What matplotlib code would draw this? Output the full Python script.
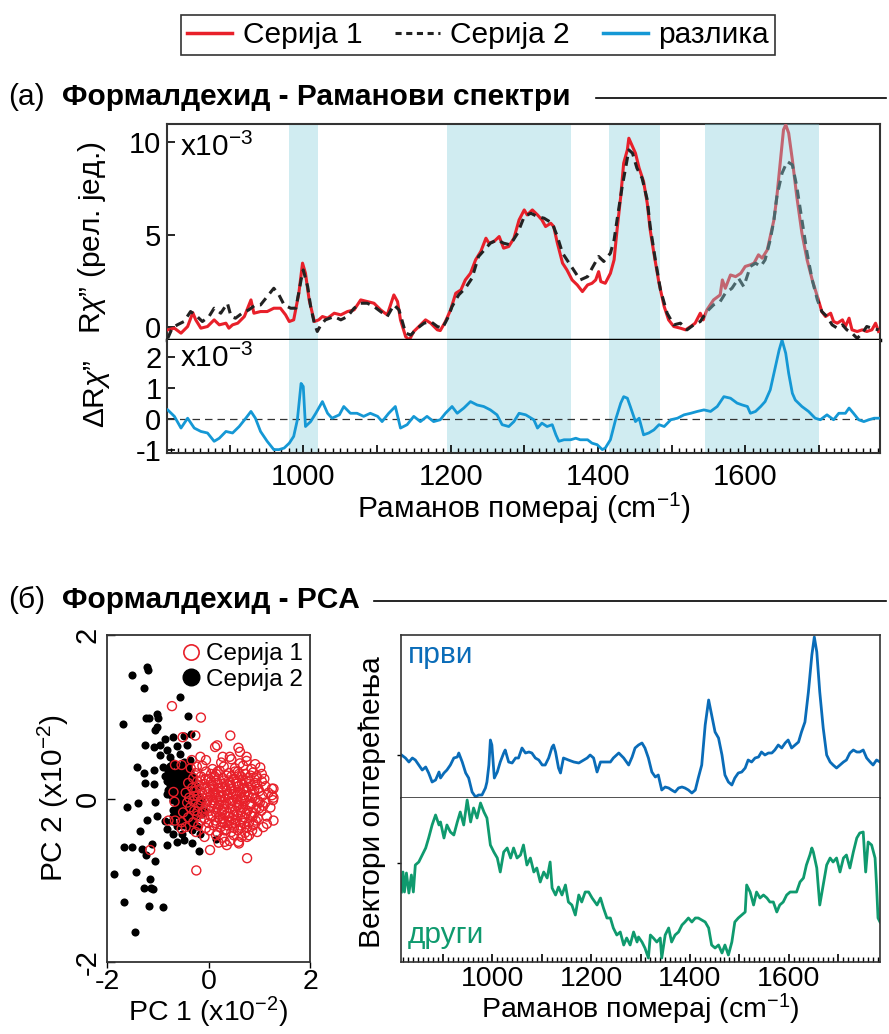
import matplotlib
matplotlib.use("Agg")
import matplotlib.pyplot as plt
from matplotlib.lines import Line2D
from matplotlib.ticker import FixedLocator, MultipleLocator, FuncFormatter

plt.rcParams['font.family'] = ['Liberation Sans', 'DejaVu Sans']
plt.rcParams['mathtext.fontset'] = 'custom'
plt.rcParams['mathtext.rm'] = 'Liberation Sans'
plt.rcParams['mathtext.it'] = 'Liberation Sans:italic'
plt.rcParams['axes.unicode_minus'] = False

# ---------------- data ----------------
bands = [(981, 1020), (1195, 1364), (1415, 1484), (1545, 1700)]

wn_s1 = [816, 825, 834, 843, 850, 854, 861, 870, 879, 886, 895, 899, 904, 911, 920, 929, 933, 942,
         951, 960, 969, 976, 981, 987, 994, 999, 1003, 1008, 1015, 1021, 1026, 1033, 1042, 1051,
         1060, 1069, 1078, 1087, 1096, 1105, 1114, 1123, 1128, 1132, 1139, 1144, 1150, 1157, 1166,
         1173, 1182, 1186, 1193, 1200, 1207, 1214, 1220, 1227, 1234, 1241, 1248, 1252, 1259, 1266,
         1272, 1279, 1286, 1293, 1300, 1304, 1311, 1318, 1324, 1329, 1336, 1340, 1345, 1352, 1358,
         1365, 1372, 1379, 1386, 1392, 1397, 1401, 1404, 1410, 1417, 1422, 1426, 1431, 1435, 1440,
         1442, 1447, 1451, 1456, 1462, 1467, 1471, 1476, 1483, 1490, 1496, 1503, 1512, 1519, 1526,
         1532, 1539, 1543, 1548, 1557, 1566, 1569, 1573, 1580, 1587, 1594, 1600, 1607, 1612, 1618,
         1623, 1630, 1634, 1639, 1643, 1648, 1652, 1655, 1659, 1664, 1670, 1677, 1684, 1691, 1698,
         1704, 1709, 1716, 1720, 1725, 1732, 1736, 1741, 1745, 1752, 1759, 1765, 1772, 1777, 1781]
s1 = [-0.14, -0.05, -0.32, 0.04, 0.79, 0.40, -0.05, 0.04, 0.40, 0.13, 0.22, -0.05, 0.13, 0.22, 0.58,
      1.48, 0.76, 0.85, 0.85, 1.03, 1.03, 0.67, 0.31, 0.40, 1.84, 3.47, 2.92, 1.48, 0.31, 0.40, 0.58,
      0.49, 0.76, 0.67, 0.85, 0.94, 1.48, 1.39, 1.30, 0.94, 0.67, 1.75, 1.39, 0.40, -0.51, -0.69,
      -0.23, 0.04, 0.40, 0.22, -0.14, -0.18, 0.31, 0.94, 1.84, 2.02, 2.56, 2.92, 3.65, 4.10, 4.82,
      4.55, 4.64, 4.91, 4.28, 4.37, 4.82, 5.81, 6.35, 6.08, 6.35, 6.08, 5.81, 5.45, 5.63, 5.45, 4.55,
      3.47, 3.10, 2.56, 2.29, 1.93, 2.29, 2.38, 2.56, 3.01, 2.47, 2.38, 2.92, 3.65, 5.27, 7.08, 8.88,
      9.60, 10.23, 9.78, 9.42, 8.61, 7.89, 6.71, 5.27, 4.01, 2.38, 1.12, 0.40, 0.04, -0.05, -0.14,
      0.04, 0.22, 0.76, 0.40, 0.94, 1.48, 1.75, 2.56, 2.11, 2.83, 2.74, 2.92, 3.29, 3.38, 3.47, 3.92,
      3.74, 4.19, 4.91, 5.81, 7.08, 9.06, 10.69, 10.96, 10.51, 9.06, 7.08, 5.09, 3.65, 2.56, 1.66,
      0.85, 0.58, 0.76, 0.31, 0.22, 0.40, 0.04, 0.49, -0.14, -0.23, -0.14, -0.23, -0.14, 0.22, -0.23]

wn_s2 = [816, 822, 829, 838, 847, 856, 863, 872, 879, 888, 897, 902, 908, 917, 926, 935, 942, 951,
         960, 967, 974, 983, 990, 997, 1000, 1006, 1010, 1015, 1019, 1024, 1030, 1042, 1051, 1060,
         1069, 1078, 1087, 1096, 1105, 1114, 1123, 1130, 1139, 1146, 1155, 1164, 1173, 1182, 1189,
         1196, 1202, 1211, 1220, 1229, 1238, 1248, 1254, 1263, 1272, 1281, 1291, 1300, 1309, 1318,
         1327, 1338, 1345, 1352, 1358, 1367, 1376, 1386, 1392, 1401, 1408, 1417, 1422, 1426, 1433,
         1438, 1442, 1447, 1453, 1460, 1467, 1471, 1478, 1485, 1494, 1503, 1512, 1521, 1530, 1539,
         1548, 1557, 1566, 1573, 1582, 1591, 1598, 1607, 1614, 1621, 1627, 1634, 1639, 1643, 1650,
         1657, 1664, 1670, 1677, 1684, 1691, 1698, 1704, 1711, 1718, 1725, 1732, 1738, 1745, 1752,
         1759, 1765, 1772, 1781]
s2 = [-0.60, -0.05, 0.13, 0.31, 0.85, 0.58, 0.31, 0.58, 1.03, 0.76, 1.30, 0.58, 0.49, 0.76, 0.94,
      1.21, 1.21, 1.66, 2.11, 1.75, 1.21, 1.03, 1.03, 2.56, 3.10, 2.20, 1.12, 0.22, -0.23, 0.13, 0.40,
      0.58, 0.40, 0.58, 1.03, 1.30, 1.30, 1.12, 0.85, 0.58, 1.21, 0.94, -0.32, -0.42, -0.05, 0.22,
      0.31, 0.04, -0.05, 0.49, 1.12, 1.75, 2.11, 2.65, 3.83, 4.28, 4.55, 4.73, 4.55, 4.46, 5.09, 5.99,
      6.17, 5.99, 5.90, 5.63, 4.91, 4.01, 3.65, 3.10, 2.56, 2.74, 3.19, 3.83, 3.56, 4.01, 4.73, 5.81,
      7.62, 8.70, 9.60, 9.42, 8.61, 8.07, 6.90, 5.45, 3.65, 2.02, 0.76, 0.13, 0.22, -0.14, 0.13, 0.31,
      0.85, 1.21, 1.39, 1.84, 2.11, 2.65, 2.20, 3.29, 3.47, 3.29, 3.65, 4.73, 5.81, 7.08, 8.34, 8.97,
      8.79, 7.62, 5.81, 4.01, 2.56, 1.48, 0.85, 0.58, 0.13, -0.05, 0.13, -0.14, -0.32, -0.60, -0.32,
      0.04, -0.05, -0.14]

wn_diff = [816, 825, 834, 843, 852, 861, 870, 879, 886, 895, 904, 913, 922, 929, 935, 942, 951, 960,
           967, 974, 981, 987, 992, 997, 1000, 1003, 1010, 1017, 1026, 1033, 1039, 1049, 1055, 1064,
           1073, 1082, 1091, 1101, 1107, 1116, 1125, 1132, 1141, 1150, 1159, 1168, 1177, 1186, 1193,
           1202, 1209, 1218, 1227, 1236, 1245, 1254, 1263, 1270, 1279, 1286, 1293, 1302, 1313, 1318,
           1324, 1331, 1338, 1343, 1347, 1354, 1363, 1370, 1376, 1386, 1392, 1399, 1406, 1410, 1417,
           1424, 1431, 1435, 1440, 1444, 1451, 1456, 1462, 1469, 1476, 1483, 1490, 1499, 1508, 1517,
           1526, 1535, 1544, 1553, 1562, 1571, 1580, 1589, 1596, 1603, 1607, 1614, 1621, 1627, 1634,
           1641, 1646, 1650, 1655, 1659, 1664, 1668, 1677, 1686, 1695, 1702, 1711, 1720, 1727, 1736,
           1741, 1747, 1754, 1761, 1768, 1775, 1781]
diff = [0.29, 0.08, -0.30, 0.02, -0.30, -0.41, -0.46, -0.73, -0.63, -0.41, -0.46, -0.25, 0.02, 0.24,
        0.02, -0.41, -0.73, -1.00, -1.00, -0.95, -0.79, -0.57, -0.03, 1.15, 1.05, -0.25, -0.09, 0.18,
        0.56, 0.18, 0.02, 0.13, 0.40, 0.18, 0.18, 0.08, 0.18, 0.08, -0.09, 0.18, 0.40, -0.30, -0.19,
        0.08, -0.09, 0.08, -0.09, -0.03, 0.18, 0.40, 0.18, 0.35, 0.56, 0.45, 0.40, 0.29, 0.13, -0.19,
        -0.25, -0.09, 0.18, 0.13, -0.03, -0.30, -0.14, -0.25, -0.19, -0.52, -0.73, -0.68, -0.68, -0.63,
        -0.68, -0.68, -0.79, -0.84, -1.00, -0.95, -0.68, -0.03, 0.51, 0.72, 0.67, 0.40, -0.09, 0.02,
        -0.52, -0.46, -0.36, -0.19, -0.25, -0.03, 0.02, 0.13, 0.18, 0.24, 0.29, 0.24, 0.40, 0.72, 0.67,
        0.51, 0.45, 0.40, 0.18, 0.24, 0.40, 0.56, 0.94, 1.69, 2.23, 2.56, 2.13, 1.48, 0.83, 0.61, 0.40,
        0.24, 0.02, -0.03, 0.13, -0.03, 0.18, 0.18, 0.35, 0.18, -0.03, -0.09, -0.03, 0.02, 0.02]

wn_pc1 = [816, 824, 831, 838, 844, 851, 858, 865, 871, 878, 885, 892, 895, 902, 908, 915, 922, 929,
          932, 939, 946, 952, 959, 966, 972, 979, 986, 989, 993, 996, 999, 1004, 1010, 1016, 1023,
          1026, 1033, 1040, 1047, 1053, 1060, 1067, 1074, 1080, 1087, 1094, 1101, 1107, 1114, 1121,
          1124, 1128, 1134, 1138, 1144, 1154, 1165, 1175, 1185, 1192, 1198, 1205, 1212, 1219, 1229,
          1239, 1245, 1256, 1266, 1276, 1283, 1289, 1296, 1303, 1309, 1316, 1323, 1330, 1336, 1343,
          1350, 1357, 1363, 1370, 1377, 1384, 1390, 1397, 1404, 1411, 1417, 1424, 1431, 1438, 1444,
          1451, 1458, 1465, 1471, 1478, 1485, 1491, 1498, 1505, 1512, 1518, 1525, 1532, 1539, 1545,
          1552, 1559, 1566, 1572, 1579, 1586, 1593, 1599, 1606, 1613, 1620, 1626, 1633, 1640, 1647,
          1652, 1657, 1663, 1670, 1677, 1684, 1690, 1697, 1704, 1711, 1717, 1724, 1731, 1738, 1744,
          1751, 1758, 1765, 1771, 1778, 1785]
pc1 = [0.00, -0.03, -0.07, -0.03, -0.05, -0.10, -0.15, -0.12, -0.18, -0.27, -0.25, -0.17, -0.23,
       -0.18, -0.15, -0.10, -0.03, -0.02, 0.02, -0.07, -0.18, -0.23, -0.37, -0.42, -0.40, -0.40,
       -0.33, -0.27, -0.10, 0.15, 0.10, -0.23, -0.17, -0.07, 0.02, 0.05, -0.07, -0.08, -0.03, -0.03,
       0.07, 0.02, 0.03, 0.02, -0.03, -0.05, -0.10, -0.10, -0.03, 0.08, 0.10, 0.03, -0.13, -0.18,
       -0.03, -0.05, -0.07, -0.08, -0.05, -0.03, 0.00, -0.03, -0.17, -0.07, -0.07, -0.07, -0.03, 0.02,
       -0.03, -0.10, -0.02, 0.07, 0.10, 0.12, 0.07, -0.03, -0.17, -0.22, -0.20, -0.35, -0.32, -0.33,
       -0.35, -0.37, -0.33, -0.32, -0.33, -0.35, -0.38, -0.35, -0.23, -0.10, 0.30, 0.55, 0.40, 0.23,
       0.17, 0.00, -0.20, -0.27, -0.30, -0.23, -0.18, -0.17, -0.13, -0.05, -0.07, -0.03, -0.02, 0.03,
       0.00, 0.02, 0.02, 0.05, 0.10, 0.07, 0.12, 0.15, 0.07, 0.10, 0.13, 0.23, 0.33, 0.63, 1.00, 1.18,
       1.03, 0.63, 0.27, 0.00, -0.07, -0.10, -0.13, -0.10, -0.07, -0.05, 0.02, 0.05, 0.03, 0.03, 0.05,
       -0.03, -0.07, -0.10, -0.05, -0.07]

wn_pc2 = [816, 819, 822, 826, 831, 836, 840, 844, 851, 858, 865, 871, 878, 885, 892, 895, 902, 908,
          915, 922, 929, 935, 942, 949, 956, 962, 969, 976, 983, 989, 996, 1003, 1010, 1016, 1023,
          1030, 1037, 1043, 1050, 1057, 1063, 1070, 1077, 1084, 1090, 1097, 1104, 1111, 1117, 1121,
          1128, 1134, 1141, 1148, 1154, 1161, 1168, 1175, 1181, 1188, 1195, 1202, 1212, 1219, 1225,
          1232, 1239, 1245, 1252, 1259, 1266, 1272, 1279, 1286, 1293, 1296, 1303, 1309, 1316, 1320,
          1326, 1333, 1340, 1343, 1350, 1357, 1363, 1370, 1377, 1384, 1390, 1397, 1404, 1411, 1417,
          1424, 1431, 1438, 1444, 1451, 1458, 1465, 1471, 1478, 1485, 1491, 1498, 1505, 1512, 1515,
          1522, 1529, 1535, 1542, 1549, 1556, 1562, 1569, 1576, 1582, 1589, 1596, 1603, 1609, 1616,
          1623, 1630, 1636, 1643, 1647, 1650, 1657, 1663, 1670, 1677, 1684, 1690, 1697, 1704, 1711,
          1717, 1724, 1731, 1738, 1744, 1751, 1756, 1761, 1768, 1775, 1778, 1781, 1785]
pc2 = [-0.29, -0.09, -0.29, -0.10, -0.30, -0.12, -0.29, -0.02, 0.01, 0.08, 0.15, 0.25, 0.38, 0.48,
       0.38, 0.41, 0.25, 0.38, 0.31, 0.28, 0.41, 0.51, 0.38, 0.63, 0.41, 0.55, 0.45, 0.60, 0.51, 0.45,
       0.18, 0.11, 0.05, -0.09, 0.11, 0.15, 0.05, 0.15, 0.05, 0.08, 0.18, -0.02, 0.05, -0.09, -0.05,
       -0.19, -0.09, -0.15, 0.01, -0.25, -0.32, -0.24, -0.32, -0.22, -0.39, -0.42, -0.52, -0.32,
       -0.39, -0.29, -0.29, -0.35, -0.42, -0.35, -0.45, -0.55, -0.55, -0.65, -0.72, -0.69, -0.82,
       -0.75, -0.82, -0.69, -0.79, -0.74, -0.79, -0.85, -0.95, -0.72, -0.75, -0.79, -0.75, -0.95,
       -0.72, -0.65, -0.79, -0.72, -0.69, -0.62, -0.59, -0.55, -0.59, -0.55, -0.55, -0.57, -0.59,
       -0.65, -0.82, -0.85, -0.82, -0.90, -0.82, -0.92, -0.79, -0.59, -0.55, -0.52, -0.49, -0.22,
       -0.29, -0.42, -0.29, -0.35, -0.32, -0.35, -0.39, -0.39, -0.49, -0.42, -0.39, -0.32, -0.29,
       -0.29, -0.29, -0.19, -0.15, -0.02, 0.08, 0.15, 0.11, -0.05, -0.42, -0.22, -0.02, 0.05, 0.01,
       0.05, -0.09, 0.05, 0.08, -0.05, 0.11, 0.25, 0.30, 0.31, -0.09, 0.21, 0.18, 0.05, -0.22, -0.55,
       -0.59]

# PCA scores (x10^-2): Серија 1 (open red) and Серија 2 (filled black)
pca_s1 = [(-0.05, 0.47), (0.25, 0.44), (0.45, 0.48), (0.62, 0.43), (0.75, 0.46), (0.92, 0.42),
          (-0.35, 0.37), (-0.12, 0.40), (0.08, 0.36), (0.30, 0.39), (0.52, 0.37), (0.68, 0.40),
          (0.85, 0.36), (1.02, 0.38), (-0.25, 0.31), (-0.05, 0.33), (0.15, 0.30), (0.22, 0.34),
          (0.40, 0.31), (0.58, 0.33), (0.72, 0.30), (0.88, 0.32), (1.05, 0.30), (-0.30, 0.25),
          (-0.15, 0.27), (0.00, 0.24), (0.12, 0.27), (0.28, 0.25), (0.36, 0.28), (0.50, 0.24),
          (0.64, 0.27), (0.78, 0.25), (0.95, 0.27), (1.10, 0.24), (-0.40, 0.19), (-0.22, 0.21),
          (-0.08, 0.18), (0.05, 0.21), (0.18, 0.19), (0.30, 0.22), (0.42, 0.19), (0.55, 0.21),
          (0.66, 0.18), (0.80, 0.21), (0.92, 0.19), (1.05, 0.21), (-0.32, 0.13), (-0.18, 0.15),
          (-0.05, 0.12), (0.08, 0.15), (0.20, 0.13), (0.33, 0.15), (0.45, 0.12), (0.58, 0.15),
          (0.70, 0.13), (0.84, 0.15), (0.98, 0.12), (1.12, 0.15), (1.25, 0.12), (-0.45, 0.07),
          (-0.28, 0.09), (-0.12, 0.06), (0.00, 0.09), (0.12, 0.07), (0.25, 0.09), (0.38, 0.06),
          (0.50, 0.09), (0.62, 0.07), (0.75, 0.09), (0.88, 0.06), (1.00, 0.09), (1.18, 0.07),
          (-0.38, 0.01), (-0.22, 0.03), (-0.10, 0.00), (0.04, 0.03), (0.16, 0.01), (0.29, 0.03),
          (0.41, 0.00), (0.54, 0.03), (0.66, 0.01), (0.79, 0.03), (0.92, 0.00), (1.06, 0.03),
          (1.28, 0.01), (-0.42, -0.05), (-0.30, -0.03), (-0.15, -0.06), (-0.02, -0.03), (0.10, -0.05),
          (0.22, -0.03), (0.35, -0.06), (0.47, -0.03), (0.60, -0.05), (0.72, -0.03), (0.85, -0.06),
          (0.98, -0.03), (1.12, -0.05), (-0.36, -0.11), (-0.20, -0.09), (-0.06, -0.12), (0.06, -0.09),
          (0.18, -0.11), (0.31, -0.09), (0.43, -0.12), (0.56, -0.09), (0.68, -0.11), (0.81, -0.09),
          (0.94, -0.12), (1.08, -0.09), (1.22, -0.11), (-0.50, -0.17), (-0.28, -0.15), (-0.12, -0.18),
          (0.02, -0.15), (0.14, -0.17), (0.26, -0.15), (0.39, -0.18), (0.52, -0.15), (0.64, -0.17),
          (0.77, -0.15), (0.90, -0.18), (1.04, -0.15), (-0.40, -0.23), (-0.22, -0.21), (-0.08, -0.24),
          (0.08, -0.21), (0.20, -0.23), (0.33, -0.21), (0.46, -0.24), (0.58, -0.21), (0.71, -0.23),
          (0.84, -0.21), (0.97, -0.24), (1.15, -0.22), (-0.30, -0.29), (-0.15, -0.27), (0.00, -0.30),
          (0.14, -0.27), (0.27, -0.29), (0.40, -0.27), (0.53, -0.30), (0.66, -0.27), (0.80, -0.29),
          (0.93, -0.27), (-0.45, -0.35), (-0.20, -0.33), (-0.05, -0.36), (0.10, -0.33), (0.24, -0.35),
          (0.37, -0.33), (0.50, -0.36), (0.62, -0.33), (0.76, -0.35), (0.88, -0.33), (1.08, -0.35),
          (-0.25, -0.41), (0.02, -0.39), (0.18, -0.42), (0.32, -0.39), (0.45, -0.41), (0.58, -0.39),
          (0.72, -0.42), (0.86, -0.39), (-0.08, -0.47), (0.15, -0.45), (0.28, -0.48), (0.50, -0.45),
          (0.65, -0.47), (0.80, -0.45), (0.20, -0.54), (0.42, -0.52), (0.60, -0.55),
          (0.06, 0.17), (0.19, 0.05), (0.31, -0.13), (0.44, 0.16), (0.56, -0.01), (0.69, 0.11),
          (0.82, -0.07), (0.12, -0.07), (0.37, 0.04), (0.50, -0.20), (0.63, -0.14), (0.25, 0.18),
          (0.74, 0.22), (-0.02, 0.05), (0.28, -0.25), (0.90, 0.10), (0.45, 0.27), (0.15, -0.30),
          (0.60, 0.30), (0.70, -0.30), (-0.15, -0.02), (1.00, -0.12), (0.35, -0.38), (0.05, 0.30),
          (0.95, 0.25),
          (-0.24, 0.10), (-0.16, 0.22), (-0.10, -0.15), (0.02, 0.12), (0.09, -0.02), (0.14, 0.22),
          (0.21, -0.08), (0.27, 0.13), (0.33, 0.00), (0.40, 0.22), (0.40, -0.22), (0.48, 0.05),
          (0.53, -0.27), (0.55, 0.18), (0.60, -0.08), (0.67, 0.23), (0.71, 0.04), (0.74, -0.18),
          (0.78, 0.14), (0.86, 0.01), (0.87, -0.22), (0.96, 0.17), (1.01, -0.05), (0.05, -0.22),
          (0.18, 0.33), (0.32, -0.30), (0.46, -0.32), (0.52, 0.33), (0.64, -0.36), (0.83, 0.28),
          (-0.06, 0.24), (-0.22, -0.16), (-0.28, 0.03), (0.09, 0.07), (0.23, 0.02), (0.36, 0.10),
          (0.58, 0.08), (0.64, -0.02), (0.43, -0.06), (0.27, -0.17),
          (-0.72, 1.13), (-0.15, 0.99), (0.43, 0.77), (-0.51, 0.75), (-0.26, 0.77), (0.13, 0.63),
          (0.17, 0.65), (0.28, 0.51), (0.42, 0.51), (0.59, 0.62), (0.62, 0.57), (0.75, 0.51),
          (-0.16, 0.51), (-0.33, 0.47), (-0.23, 0.39), (-0.66, 0.41), (-0.53, 0.41), (-0.69, 0.08),
          (-0.67, -0.04), (-0.79, -0.27), (-0.66, -0.27), (-0.53, -0.29), (-0.53, -0.37), (1.28, 0.12),
          (1.25, 0.04), (1.27, -0.02), (1.28, -0.27), (1.15, -0.31), (0.96, -0.41), (0.76, -0.73),
          (-0.24, -0.88), (0.03, -0.63), (0.32, -0.53), (0.36, -0.57), (0.59, -0.53), (0.76, -0.47),
          (0.89, -0.31), (-1.15, -0.63)]

pca_s2 = [(-1.51, 1.51), (-1.22, 1.61), (-1.20, 1.57), (-1.28, 1.35), (-0.56, 1.24), (-1.69, 0.91),
          (-1.23, 0.99), (-1.17, 0.98), (-1.02, 1.03), (-0.99, 0.98), (-0.41, 1.01), (-1.02, 0.88),
          (-1.05, 0.84), (-0.85, 0.73), (-0.69, 0.75), (-0.49, 0.77), (-0.35, 0.79), (-1.25, 0.66),
          (-1.08, 0.63), (-0.95, 0.65), (-0.82, 0.59), (-0.62, 0.64), (-0.43, 0.66), (-0.95, 0.53),
          (-0.76, 0.51), (-0.56, 0.55), (-1.41, 0.39), (-1.28, 0.31), (-1.08, 0.35), (-0.89, 0.39),
          (-0.69, 0.43), (-0.49, 0.45), (-0.36, 0.47), (-1.25, 0.19), (-1.07, 0.18), (-0.85, 0.27),
          (-0.66, 0.31), (-0.53, 0.27), (-0.39, 0.33), (-1.61, -0.10), (-1.38, -0.05), (-1.05, -0.04),
          (-0.82, 0.06), (-0.62, 0.14), (-0.46, 0.14), (-1.22, -0.26), (-1.02, -0.22), (-0.85, -0.27),
          (-0.69, -0.22), (-1.35, -0.40), (-0.82, -0.37), (-0.69, -0.43), (-0.53, -0.43),
          (-0.33, -0.39), (-0.16, -0.43), (-1.67, -0.59), (-1.51, -0.59), (-1.31, -0.62),
          (-1.12, -0.56), (-0.82, -0.57), (-0.62, -0.53), (-0.49, -0.51), (-0.33, -0.55),
          (-0.19, -0.64), (0.15, -0.49), (-1.23, -0.69), (-1.05, -0.77), (-1.87, -0.92),
          (-1.43, -0.90), (-1.15, -0.98), (-1.28, -1.10), (-1.14, -1.10), (-1.10, -1.11),
          (-1.67, -1.26), (-1.17, -1.31), (-0.90, -1.33), (-1.45, -1.63),
          (-0.75, 0.40), (-0.62, 0.41), (-0.50, 0.39), (-0.40, 0.40), (-0.80, 0.34), (-0.70, 0.33),
          (-0.58, 0.35), (-0.47, 0.34), (-0.36, 0.33), (-0.78, 0.28), (-0.66, 0.27), (-0.55, 0.29),
          (-0.44, 0.28), (-0.33, 0.27), (-0.82, 0.22), (-0.72, 0.23), (-0.61, 0.21), (-0.50, 0.22),
          (-0.40, 0.23), (-0.30, 0.21), (-0.76, 0.16), (-0.66, 0.17), (-0.56, 0.15), (-0.45, 0.16),
          (-0.35, 0.17), (-0.25, 0.15), (-0.80, 0.10), (-0.70, 0.11), (-0.60, 0.09), (-0.50, 0.10),
          (-0.40, 0.11), (-0.30, 0.09), (-0.74, 0.04), (-0.64, 0.05), (-0.54, 0.03), (-0.44, 0.04),
          (-0.34, 0.05), (-0.20, 0.03), (-0.70, -0.02), (-0.58, -0.01), (-0.48, -0.03), (-0.38, -0.02),
          (-0.26, -0.01), (-0.12, -0.03), (-0.62, -0.08), (-0.52, -0.07), (-0.42, -0.09),
          (-0.30, -0.08), (-0.18, -0.07), (-0.70, -0.14), (-0.56, -0.13), (-0.45, -0.15),
          (-0.35, -0.14), (-0.22, -0.13), (-0.08, -0.15), (-0.60, -0.20), (-0.48, -0.19),
          (-0.36, -0.21), (-0.25, -0.20), (-0.12, -0.19), (-0.72, -0.27), (-0.55, -0.26),
          (-0.42, -0.28), (-0.30, -0.27), (-0.62, -0.34), (-0.48, -0.33), (-0.38, -0.35),
          (-0.22, -0.34)]

# ---------------- styling ----------------
W, H = 889, 1034
FS = 21.5
TFS = 21
BFS = 20.5   # bottom-row labels, a touch smaller so they fit above the edge
RED = '#e8202a'
DARK = '#222222'
DIFF_BLUE = '#1598d5'
PC1_BLUE = '#0a6cb8'
PC2_GREEN = '#0f9a6e'
SHADE = '#d0ecf1'
FRAME = '#333333'


def box(l, t, r, b):
    return [l / W, 1 - b / H, (r - l) / W, (b - t) / H]


fig = plt.figure(figsize=(W / 100, H / 100), dpi=100)

# ---------------- (a) spectra ----------------
ax_s = fig.add_axes(box(167, 124, 880, 340))
ax_d = fig.add_axes(box(167, 340, 880, 453))

for i, (a, b) in enumerate(bands):
    ax_d.axvspan(a, b, color=SHADE, lw=0, zorder=0)
    if i == len(bands) - 1:
        # last band sits over the curves in the reference
        ax_s.axvspan(a, b, color='#89cfdc', alpha=0.4, lw=0, zorder=5)
    else:
        ax_s.axvspan(a, b, color=SHADE, lw=0, zorder=0)

ax_s.plot(wn_s1, s1, color=RED, lw=2.2, zorder=3)
ax_s.plot(wn_s2, s2, color=DARK, lw=2.2, ls=(0, (3, 2)), zorder=4)
ax_d.plot(wn_diff, diff, color=DIFF_BLUE, lw=2.0, zorder=3)
ax_d.axhline(0, color=FRAME, lw=0.9, ls=(0, (6, 4)), zorder=2)

for ax in (ax_s, ax_d):
    ax.set_xlim(815, 1783)
    for sp in ax.spines.values():
        sp.set_color(FRAME)
        sp.set_linewidth(1.5)
ax_s.spines['bottom'].set_color('k')
ax_s.spines['bottom'].set_linewidth(2.5)
ax_s.spines['bottom'].set_zorder(6)
ax_d.spines['top'].set_visible(False)

ax_s.set_ylim(-0.69, 11.0)
ax_s.set_yticks([0, 5, 10])
ax_s.tick_params(axis='y', direction='in', length=6, width=1.2, labelsize=TFS, pad=4)
ax_s.tick_params(axis='x', bottom=False, labelbottom=False)

ax_d.set_ylim(-1.11, 2.56)
ax_d.set_yticks([-1, 0, 1, 2])
ax_d.tick_params(axis='y', direction='in', length=6, width=1.2, labelsize=TFS, pad=4)
ax_d.xaxis.set_major_locator(FixedLocator(list(range(900, 1800, 100))))
ax_d.xaxis.set_minor_locator(MultipleLocator(10))
ax_d.xaxis.set_major_formatter(FuncFormatter(lambda v, p: '%d' % v if int(v) % 200 == 0 else ''))
ax_d.tick_params(axis='x', which='major', direction='in', length=6, width=1.2, labelsize=TFS, pad=7)
ax_d.tick_params(axis='x', which='minor', direction='in', length=3.5, width=1.0)
ax_d.set_xlabel('Раманов померај (cm$^{-1}$)', fontsize=FS, labelpad=0)

ax_s.text(0.018, 0.893, 'x10$^{-3}$', transform=ax_s.transAxes, fontsize=FS, va='center')
ax_d.text(0.018, 0.84, 'x10$^{-3}$', transform=ax_d.transAxes, fontsize=FS, va='center')

fig.text(92 / W, 1 - 238 / H, 'R$\\chi$” (рел. јед.)', rotation=90, ha='center', va='center', fontsize=FS)
fig.text(97 / W, 1 - 394 / H, 'ΔR$\\chi$”', rotation=90, ha='center', va='center', fontsize=FS)

# top legend
handles = [Line2D([], [], color=RED, lw=2.5),
           Line2D([], [], color=DARK, lw=2.2, ls=(0, (2, 1.5))),
           Line2D([], [], color=DIFF_BLUE, lw=2.5)]
leg = fig.legend(handles, ['Серија 1', 'Серија 2', 'разлика'], loc='center',
                 bbox_to_anchor=(478 / W, 1 - 35 / H), ncol=3, fontsize=FS, frameon=True,
                 fancybox=False, edgecolor='k', handlelength=1.5, handletextpad=0.35,
                 columnspacing=1.1, borderpad=0.2)
leg.get_frame().set_linewidth(1.2)

# section headings
fig.text(8 / W, 1 - 97 / H, '(a)', fontsize=FS, va='center')
fig.text(62 / W, 1 - 97 / H, 'Формалдехид - Раманови спектри', fontsize=FS, fontweight='bold', va='center')
fig.add_artist(Line2D([596 / W, 886 / W], [1 - 98 / H] * 2, color='k', lw=1.2))
fig.text(8 / W, 1 - 600 / H, '(б)', fontsize=FS, va='center')
fig.text(62 / W, 1 - 600 / H, 'Формалдехид - PCA', fontsize=FS, fontweight='bold', va='center')
fig.add_artist(Line2D([374 / W, 886 / W], [1 - 601 / H] * 2, color='k', lw=1.2))

# ---------------- (б) PCA scores ----------------
ax_sc = fig.add_axes(box(107, 635, 310, 962))
x2 = [p[0] for p in pca_s2]
y2 = [p[1] for p in pca_s2]
x1 = [p[0] for p in pca_s1]
y1 = [p[1] for p in pca_s1]
ax_sc.scatter(x2, y2, s=34, color='k', lw=0, zorder=2)
ax_sc.scatter(x1, y1, s=42, facecolors='none', edgecolors=RED, lw=1.0, zorder=3)
ax_sc.set_xlim(-2, 2)
ax_sc.set_ylim(-2, 2)
ax_sc.set_xticks([-2, 0, 2])
ax_sc.set_yticks([-2, 0, 2])
ax_sc.tick_params(axis='x', direction='out', length=4, width=1.0, labelsize=BFS, pad=1)
ax_sc.tick_params(axis='y', direction='in', length=6, width=1.0, labelsize=TFS, labelrotation=90, pad=4)
for t in ax_sc.get_yticklabels():
    t.set_va('center')
for sp in ax_sc.spines.values():
    sp.set_color(FRAME)
    sp.set_linewidth(1.3)
ax_sc.set_xlabel('PC 1 (x10$^{-2}$)', fontsize=BFS, labelpad=0)
ax_sc.set_ylabel('PC 2 (x10$^{-2}$)', fontsize=FS, labelpad=2)
sc_handles = [Line2D([], [], marker='o', ls='', mfc='none', mec=RED, mew=1.2, ms=11),
              Line2D([], [], marker='o', ls='', color='k', ms=12)]
ax_sc.legend(sc_handles, ['Серија 1', 'Серија 2'], loc='upper right', frameon=False, fontsize=17.5,
             handletextpad=0.1, handlelength=1.0, borderaxespad=0.1, labelspacing=0.1, borderpad=0.2)

# ---------------- (б) loading vectors ----------------
ax_p1 = fig.add_axes(box(401, 635, 880, 798))
ax_p2 = fig.add_axes(box(401, 798, 880, 962))
ax_p1.plot(wn_pc1, pc1, color=PC1_BLUE, lw=2.0)
ax_p2.plot(wn_pc2, pc2, color=PC2_GREEN, lw=2.0)
ax_p1.set_ylim(-0.43, 1.2)
ax_p2.set_ylim(-0.99, 0.65)
for ax in (ax_p1, ax_p2):
    ax.set_xlim(815, 1785)
    ax.set_yticks([0])
    ax.tick_params(axis='y', direction='out', length=3, width=1.0, labelleft=False)
    for sp in ax.spines.values():
        sp.set_color(FRAME)
        sp.set_linewidth(1.2)
ax_p1.tick_params(axis='x', bottom=False, labelbottom=False)
ax_p2.spines['top'].set_visible(False)
ax_p2.xaxis.set_major_locator(FixedLocator(list(range(900, 1800, 100))))
ax_p2.xaxis.set_minor_locator(MultipleLocator(10))
ax_p2.xaxis.set_major_formatter(FuncFormatter(lambda v, p: '%d' % v if int(v) % 200 == 0 else ''))
ax_p2.tick_params(axis='x', which='major', direction='in', length=6, width=1.2, labelsize=BFS, pad=3)
ax_p2.tick_params(axis='x', which='minor', direction='in', length=3.5, width=1.0)
ax_p2.set_xlabel('Раманов померај (cm$^{-1}$)', fontsize=BFS, labelpad=0)
ax_p1.text(0.015, 0.877, 'први', color=PC1_BLUE, transform=ax_p1.transAxes, fontsize=FS, va='center')
ax_p2.text(0.015, 0.165, 'други', color=PC2_GREEN, transform=ax_p2.transAxes, fontsize=FS, va='center')
fig.text(372 / W, 1 - 802 / H, 'Вектори оптерећења', rotation=90, ha='center', va='center', fontsize=FS)

fig.savefig('out.png', dpi=100)
